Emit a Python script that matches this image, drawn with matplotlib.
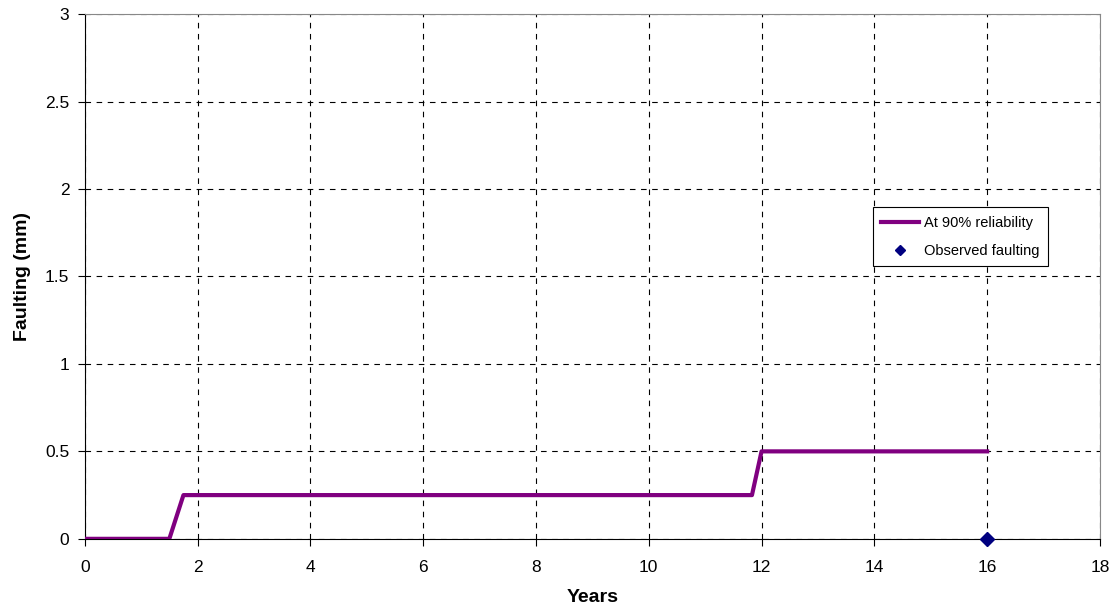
import numpy as np
import matplotlib.pyplot as plt

plt.rcParams['font.family'] = ['Liberation Sans', 'DejaVu Sans']

# Predicted faulting at 90% reliability
years = [0, 1.5, 1.75, 11.83, 12, 16]
faulting = [0, 0, 0.25, 0.25, 0.5, 0.5]

# Observed faulting
obs_years = [16]
obs_faulting = [0]

fig = plt.figure(figsize=(11.15, 6.13), dpi=100)
ax = fig.add_axes([0.076, 0.121, 0.9105, 0.856])

ax.plot(years, faulting, color='#800080', lw=3, label='At 90% reliability', zorder=3)
ax.plot(obs_years, obs_faulting, 'D', color='#000080', ms=7, ls='none',
        label='Observed faulting', zorder=4, clip_on=False)

ax.set_xlim(0, 18)
ax.set_ylim(0, 3)
ax.set_xticks(np.arange(0, 19, 2))
ax.set_yticks([0, 0.5, 1, 1.5, 2, 2.5, 3])
ax.set_yticklabels(['0', '0.5', '1', '1.5', '2', '2.5', '3'])
ax.grid(True, color='black', linestyle=(0, (5, 5)), linewidth=0.8)
ax.tick_params(labelsize=12.5, direction='out', length=5)
ax.tick_params(axis='x', pad=10)
ax.tick_params(axis='y', pad=6)

for s in ['top', 'right']:
    ax.spines[s].set_color('#888888')

ax.set_xlabel('Years', fontsize=14, fontweight='bold', labelpad=10)
ax.set_ylabel('Faulting (mm)', fontsize=14, fontweight='bold', labelpad=10)

leg = ax.legend(loc='upper left', bbox_to_anchor=(0.769, 0.646), fontsize=10.5,
                frameon=True, fancybox=False, edgecolor='black', framealpha=1,
                handlelength=2.6, handletextpad=0.3, borderpad=0.6, labelspacing=0.95,
                markerscale=0.8)
leg.get_frame().set_linewidth(0.8)

fig.savefig('out.png', dpi=100)
